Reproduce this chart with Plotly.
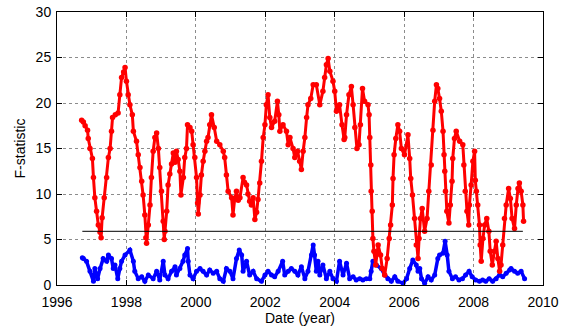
import plotly.graph_objects as go

# ---- data ----
red_year = [1996.71, 1996.76, 1996.81, 1996.88, 1996.90, 1996.95, 1997.02, 1997.05, 1997.09, 1997.14,
            1997.19, 1997.24, 1997.27, 1997.30, 1997.36, 1997.43, 1997.48, 1997.53, 1997.57, 1997.60,
            1997.68, 1997.76, 1997.81, 1997.86, 1997.92, 1997.96, 1998.00, 1998.05, 1998.10, 1998.17,
            1998.20, 1998.29, 1998.34, 1998.39, 1998.44, 1998.48, 1998.53, 1998.56, 1998.58, 1998.63,
            1998.68, 1998.72, 1998.77, 1998.82, 1998.87, 1998.92, 1998.96, 1999.01, 1999.06, 1999.09,
            1999.11, 1999.16, 1999.20, 1999.25, 1999.30, 1999.35, 1999.40, 1999.44, 1999.49, 1999.54,
            1999.57, 1999.64, 1999.68, 1999.73, 1999.76, 1999.83, 1999.88, 1999.92, 1999.97, 2000.02,
            2000.05, 2000.07, 2000.12, 2000.16, 2000.21, 2000.26, 2000.31, 2000.35, 2000.40, 2000.45,
            2000.53, 2000.60, 2000.69, 2000.79, 2000.83, 2000.88, 2000.93, 2001.03, 2001.07, 2001.12,
            2001.17, 2001.22, 2001.27, 2001.36, 2001.40, 2001.46, 2001.50, 2001.55, 2001.60, 2001.65,
            2001.70, 2001.75, 2001.79, 2001.84, 2001.89, 2001.94, 2001.99, 2002.03, 2002.08, 2002.13,
            2002.18, 2002.27, 2002.35, 2002.39, 2002.42, 2002.51, 2002.61, 2002.66, 2002.71, 2002.80,
            2002.85, 2002.93, 2002.99, 2003.04, 2003.09, 2003.14, 2003.19, 2003.23, 2003.31, 2003.38,
            2003.47, 2003.57, 2003.66, 2003.71, 2003.76, 2003.81, 2003.86, 2003.95, 2004.00, 2004.05,
            2004.14, 2004.21, 2004.27, 2004.29, 2004.34, 2004.41, 2004.48, 2004.53, 2004.58, 2004.64,
            2004.70, 2004.74, 2004.80, 2004.86, 2004.96, 2004.99, 2005.01, 2005.04, 2005.05, 2005.08,
            2005.10, 2005.13, 2005.18, 2005.25, 2005.32, 2005.37, 2005.44, 2005.51, 2005.57, 2005.61,
            2005.66, 2005.68, 2005.71, 2005.76, 2005.82, 2005.87, 2005.92, 2006.01, 2006.11, 2006.16,
            2006.19, 2006.24, 2006.30, 2006.35, 2006.40, 2006.43, 2006.47, 2006.52, 2006.59, 2006.66,
            2006.71, 2006.78, 2006.83, 2006.88, 2006.93, 2006.97, 2007.02, 2007.07, 2007.12, 2007.15,
            2007.17, 2007.19, 2007.23, 2007.29, 2007.33, 2007.38, 2007.40, 2007.45, 2007.50, 2007.60,
            2007.69, 2007.72, 2007.76, 2007.81, 2007.86, 2007.88, 2007.93, 2007.98, 2008.03, 2008.05,
            2008.08, 2008.12, 2008.17, 2008.19, 2008.22, 2008.27, 2008.32, 2008.38, 2008.44, 2008.48,
            2008.54, 2008.60, 2008.65, 2008.70, 2008.75, 2008.79, 2008.84, 2008.89, 2008.94, 2009.01,
            2009.06, 2009.11, 2009.18, 2009.23, 2009.28, 2009.32, 2009.37, 2009.42, 2009.44]
red_val = [18.1, 17.9, 17.5, 17.0, 16.1, 15.0, 13.9, 11.8, 9.6, 8.1,
           6.6, 5.8, 5.2, 7.4, 9.6, 11.8, 14.0, 15.0, 16.9, 18.4,
           18.7, 18.9, 20.9, 22.8, 23.4, 23.9, 22.4, 20.9, 19.8, 18.7,
           16.9, 15.8, 14.3, 12.9, 11.4, 9.9, 7.7, 5.2, 4.6, 6.6,
           8.8, 11.8, 14.7, 16.2, 16.7, 15.0, 12.9, 10.3, 7.0, 5.0,
           5.9, 8.1, 11.0, 12.2, 13.3, 14.5, 13.5, 14.7, 13.8, 12.5,
           9.9, 11.8, 14.0, 15.0, 17.6, 17.3, 16.9, 15.4, 14.0, 11.8,
           9.0, 7.8, 9.9, 12.1, 13.6, 14.7, 15.8, 16.2, 17.6, 18.7,
           17.3, 15.8, 15.4, 14.7, 14.0, 12.1, 10.3, 9.6, 7.7, 9.5,
           10.3, 9.3, 9.6, 11.8, 11.3, 11.0, 10.0, 9.2, 8.8, 9.6,
           7.2, 8.0, 9.4, 11.2, 13.6, 16.2, 17.6, 19.8, 20.9, 18.4,
           17.3, 18.0, 20.2, 18.7, 16.9, 17.6, 16.9, 15.4, 16.2, 15.0,
           14.0, 14.7, 13.6, 12.7, 14.7, 16.2, 18.4, 19.8, 20.5, 22.0,
           22.0, 19.8, 21.3, 22.8, 24.2, 24.9, 23.5, 22.4, 21.3, 19.1,
           19.8, 17.6, 16.0, 16.2, 18.7, 20.9, 21.8, 19.8, 17.3, 15.0,
           15.4, 17.6, 21.6, 20.2, 19.8, 18.7, 16.2, 13.2, 10.3, 8.1,
           5.1, 3.7, 2.2, 4.4, 3.3, 1.8, 1.1, 2.9, 5.1, 6.6,
           8.8, 11.7, 14.3, 16.1, 17.6, 16.9, 15.0, 14.3, 16.5, 13.9,
           11.7, 9.9, 7.3, 4.4, 2.9, 5.1, 7.3, 8.4, 5.9, 7.3,
           10.3, 13.2, 17.0, 20.2, 22.0, 21.6, 20.5, 19.1, 16.9, 14.3,
           12.5, 10.3, 8.1, 6.8, 8.8, 11.4, 13.9, 16.1, 16.9, 15.8,
           15.4, 13.2, 10.3, 8.1, 6.6, 8.8, 11.0, 13.6, 14.7, 11.5,
           10.3, 8.8, 6.6, 4.4, 2.6, 5.1, 6.6, 7.3, 5.9, 3.7,
           2.2, 3.7, 4.8, 2.9, 1.5, 2.2, 4.4, 7.3, 8.8, 10.6,
           9.5, 7.3, 6.2, 8.8, 10.6, 11.2, 10.3, 8.8, 7.0]

blue_year = [1996.73, 1996.76, 1996.85, 1996.95, 1997.05, 1997.09, 1997.17, 1997.24, 1997.33, 1997.43,
             1997.48, 1997.57, 1997.62, 1997.67, 1997.75, 1997.81, 1997.86, 1997.96, 1998.10, 1998.20,
             1998.24, 1998.34, 1998.44, 1998.53, 1998.63, 1998.77, 1998.87, 1998.96, 1999.06, 1999.11,
             1999.20, 1999.30, 1999.40, 1999.44, 1999.54, 1999.63, 1999.68, 1999.76, 1999.78, 1999.83,
             1999.92, 2000.02, 2000.12, 2000.21, 2000.31, 2000.40, 2000.50, 2000.60, 2000.69, 2000.79,
             2000.88, 2000.98, 2001.07, 2001.17, 2001.25, 2001.32, 2001.36, 2001.46, 2001.55, 2001.65,
             2001.75, 2001.89, 2001.99, 2002.08, 2002.18, 2002.27, 2002.37, 2002.50, 2002.56, 2002.66,
             2002.75, 2002.85, 2002.94, 2003.04, 2003.14, 2003.23, 2003.33, 2003.38, 2003.42, 2003.47,
             2003.52, 2003.57, 2003.66, 2003.76, 2003.86, 2003.95, 2004.05, 2004.14, 2004.24, 2004.34,
             2004.43, 2004.53, 2004.62, 2004.72, 2004.81, 2004.91, 2005.01, 2005.05, 2005.10, 2005.20,
             2005.34, 2005.44, 2005.53, 2005.63, 2005.73, 2005.82, 2005.97, 2006.07, 2006.16, 2006.25,
             2006.35, 2006.40, 2006.45, 2006.50, 2006.59, 2006.69, 2006.78, 2006.88, 2006.97, 2007.02,
             2007.12, 2007.18, 2007.24, 2007.29, 2007.39, 2007.48, 2007.58, 2007.68, 2007.77, 2007.87,
             2007.96, 2008.06, 2008.17, 2008.26, 2008.35, 2008.45, 2008.55, 2008.65, 2008.75, 2008.84,
             2008.94, 2009.04, 2009.08, 2009.18, 2009.27, 2009.37, 2009.47]
blue_val = [3.0, 2.9, 2.6, 1.5, 0.4, 1.8, 0.7, 1.8, 2.9, 2.6,
            3.3, 2.9, 1.8, 2.2, 0.7, 1.8, 2.6, 3.3, 3.85, 2.6,
            1.5, 0.7, 0.9, 0.4, 1.1, 0.7, 1.5, 0.55, 2.6, 1.1,
            0.7, 1.5, 2.0, 1.1, 1.8, 2.6, 3.3, 4.0, 2.6, 1.1,
            0.7, 1.5, 1.8, 1.5, 1.1, 1.65, 1.3, 1.5, 0.7, 0.4,
            1.8, 1.5, 0.7, 2.9, 3.85, 3.3, 1.5, 2.6, 1.1, 1.5,
            0.7, 0.4, 1.1, 1.5, 1.1, 0.9, 1.5, 2.6, 1.1, 1.5,
            1.8, 1.5, 1.1, 2.0, 0.7, 1.5, 3.3, 4.4, 3.3, 1.5,
            2.6, 1.1, 2.2, 0.7, 1.5, 0.7, 0.4, 2.6, 1.1, 2.4,
            0.7, 0.9, 0.55, 0.7, 0.55, 0.7, 0.7, 1.5, 2.6, 2.2,
            1.8, 1.1, 0.7, 0.4, 0.9, 0.4, 0.2, 0.7, 1.8, 2.75,
            2.2, 1.5, 1.8, 0.7, 0.2, 0.9, 0.55, 1.1, 2.9, 3.3,
            3.5, 4.8, 3.3, 1.5, 0.7, 0.9, 0.55, 0.7, 1.1, 1.5,
            0.9, 0.55, 0.4, 0.55, 0.4, 0.7, 0.4, 0.7, 1.1, 0.9,
            1.3, 1.65, 1.8, 1.5, 1.3, 1.5, 0.7]

threshold_year = [1996.73, 2009.42]
threshold_val = [5.9, 5.9]

x_ticks = [1996, 1998, 2000, 2002, 2004, 2006, 2008, 2010]
y_ticks = [0, 5, 10, 15, 20, 25, 30]

FONT = "Liberation Sans, Arial, sans-serif"

fig = go.Figure()
fig.add_trace(go.Scatter(x=blue_year, y=blue_val, mode="lines+markers",
                         line=dict(color="#0000ff", width=3.5),
                         marker=dict(color="#0000ff", size=5),
                         showlegend=False))
fig.add_trace(go.Scatter(x=red_year, y=red_val, mode="lines+markers",
                         line=dict(color="#ff0000", width=3),
                         marker=dict(color="#ff0000", size=5.5),
                         showlegend=False))
fig.add_trace(go.Scatter(x=threshold_year, y=threshold_val, mode="lines",
                         line=dict(color="#000000", width=1),
                         showlegend=False))

axis_common = dict(
    showline=True, linecolor="black", linewidth=1, mirror="ticks",
    ticks="inside", ticklen=5, tickcolor="black",
    showgrid=True, gridcolor="#8c8c8c", griddash="dot", gridwidth=1,
    zeroline=False, automargin=False,
    tickfont=dict(family=FONT, size=14, color="black"),
)

fig.update_layout(
    width=561, height=328,
    margin=dict(l=57, r=18, t=12, b=43),
    paper_bgcolor="white", plot_bgcolor="white",
    font=dict(family=FONT, size=14, color="black"),
    xaxis=dict(range=[1996, 2010], tickvals=x_ticks,
               ticktext=[str(v) for v in x_ticks],
               ticklabelstandoff=4,
               title=dict(text="Date (year)", font=dict(family=FONT, size=14), standoff=3),
               **axis_common),
    yaxis=dict(range=[0, 30], tickvals=y_ticks,
               ticktext=[str(v) for v in y_ticks],
               ticklabelstandoff=2,
               title=dict(text="F-statistic", font=dict(family=FONT, size=14), standoff=6),
               **axis_common),
)

fig.write_html("out.html")
